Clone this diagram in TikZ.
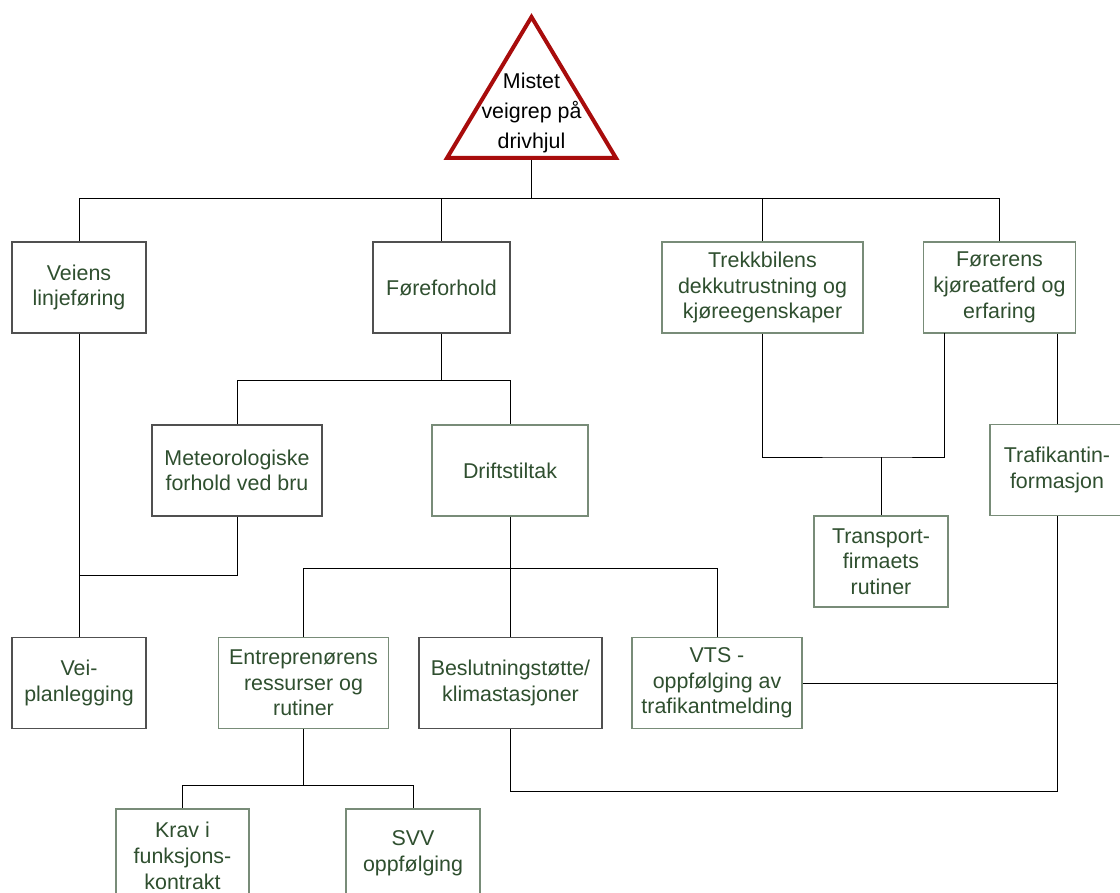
\documentclass[tikz,border=0pt]{standalone}
\usepackage{fontspec}
\setmainfont{Liberation Sans}
\usepackage{tikz}
\definecolor{causeText}{RGB}{47,79,47}
\definecolor{boxGreen}{RGB}{120,140,120}
\definecolor{boxDark}{RGB}{80,80,80}
\definecolor{triangleRed}{RGB}{168,12,12}
\tikzstyle{pixelGrid} = [x=1pt, y=-1pt]
\tikzstyle{causeBox} = [draw=boxGreen, line width=1.2pt, fill=white, align=center, text=causeText, inner sep=0pt, minimum height=91pt, font=\fontsize{21.4}{25.7}\selectfont]
\tikzstyle{causeBoxDark} = [causeBox, draw=boxDark]
\tikzstyle{connector} = [draw=black, line width=1pt]
\tikzstyle{topTriangle} = [draw=triangleRed, line width=4pt, fill=white]
\tikzstyle{topText} = [align=center, inner sep=0pt, font=\fontsize{21.4}{30}\selectfont]
\newcommand{\causeNode}[6]{\node [#1, minimum width=#5pt] (#2) at (#3,#4) {#6};}

\begin{document}
\begin{tikzpicture}[pixelGrid]
  \useasboundingbox (0,0) rectangle (1120,893);
  \filldraw [topTriangle] (531.5,17) -- (616,158) -- (447,158) -- cycle;
  \node [topText] (top) at (531.5,113) {Mistet\\veigrep på\\drivhjul};
  \coordinate (topBase) at (531.5,160);

  \causeNode{causeBoxDark}{veiens}{79}{287.5}{134}{Veiens\\linjeføring}
  \causeNode{causeBoxDark}{fore}{441.5}{287.5}{137}{Føreforhold}
  \causeNode{causeBox}{trekk}{762.5}{287.5}{201}{Trekkbilens\\dekkutrustning og\\kjøreegenskaper}
  \causeNode{causeBox}{forer}{999.5}{287.5}{152}{Førerens\\kjøreatferd og\\erfaring}
  \causeNode{causeBoxDark}{meteo}{237}{470.5}{170}{Meteorologiske\\forhold ved bru}
  \causeNode{causeBox}{drift}{510}{470.5}{156}{Driftstiltak}
  \causeNode{causeBox}{transport}{881}{561.5}{134}{Transport-\\firmaets\\rutiner}
  \causeNode{causeBox}{trafikk}{1057}{470}{134}{Trafikantin-\\formasjon}
  \causeNode{causeBoxDark}{veiplan}{79}{683}{134}{Vei-\\planlegging}
  \causeNode{causeBox}{entre}{303.5}{683}{170}{Entreprenørens\\ressurser og\\rutiner}
  \causeNode{causeBoxDark}{beslut}{510.5}{683}{183}{Beslutningstøtte/\\klimastasjoner}
  \causeNode{causeBox}{vts}{717}{683}{170}{VTS -\\oppfølging av\\trafikantmelding}
  \node [causeBox, minimum width=133pt, minimum height=94pt] (krav) at (182.5,856) {Krav i\\funksjons-\\kontrakt};
  \node [causeBox, minimum width=134pt, minimum height=88pt] (svv) at (413,853) {SVV\\oppfølging};

  \draw [connector] (topBase) -- ++(0,39) coordinate (topBus);
  \foreach \child in {veiens,fore,trekk,forer}
    \draw [connector] (topBus) -| (\child.north);
  \draw [connector] (fore.south) -- ++(0,47) coordinate (foreBus);
  \foreach \child in {meteo,drift}
    \draw [connector] (foreBus) -| (\child.north);
  \draw [connector] (drift.south) -- ++(0,52) coordinate (driftBus);
  \foreach \child in {entre,beslut,vts}
    \draw [connector] (driftBus) -| (\child.north);
  \draw [connector] (entre.south) -- ++(0,56) coordinate (entreBus);
  \foreach \child in {krav,svv}
    \draw [connector] (entreBus) -| (\child.north);

  \draw [connector] (veiens.south) -- (veiplan.north);
  \draw [connector] (meteo.south) -- ++(0,59) -| (veiplan.north);

  \coordinate (forerLeft) at (944,333);
  \coordinate (transportBus) at (881,457);
  \draw [connector] (trekk.south) |- (transportBus) -| (forerLeft);
  \draw [connector] (transportBus) -- (transport.north);
  \draw [connector] (forer.south -| trafikk.north) -- (trafikk.north);
  \draw [connector] (trafikk.south) -- ++(0,275) -| (beslut.south);
  \draw [connector] (vts.east) -- (vts.east -| trafikk.south);
\end{tikzpicture}
\end{document}
